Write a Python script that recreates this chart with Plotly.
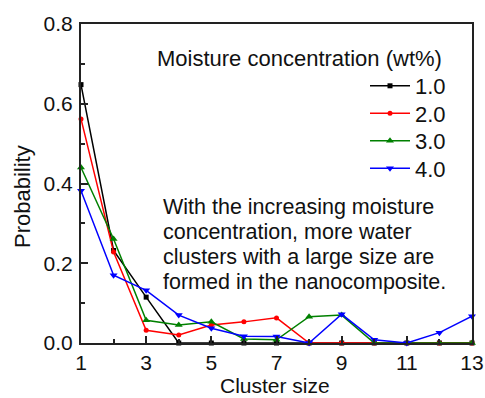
import plotly.graph_objects as go

cluster_size = [1, 2, 3, 4, 5, 6, 7, 8, 9, 10, 11, 12, 13]
p_1wt = [0.648, 0.232, 0.115, 0.0, 0.0, 0.0, 0.0, 0.0, 0.0, 0.0, 0.0, 0.0, 0.0]
p_2wt = [0.562, 0.228, 0.032, 0.020, 0.045, 0.053, 0.063, 0.0, 0.0, 0.0, 0.0, 0.0, 0.0]
p_3wt = [0.440, 0.261, 0.057, 0.045, 0.053, 0.010, 0.008, 0.066, 0.070, 0.0, 0.0, 0.0, 0.0]
p_4wt = [0.382, 0.170, 0.132, 0.070, 0.037, 0.017, 0.016, 0.0, 0.072, 0.008, 0.0, 0.026, 0.067]

series_names = ["1.0", "2.0", "3.0", "4.0"]
series_values = [p_1wt, p_2wt, p_3wt, p_4wt]
colors = ["#000000", "#ff0000", "#008000", "#0000ff"]
symbols = ["square", "circle", "triangle-up", "triangle-down"]
sizes = [5, 5, 7, 7]

legend_title = "Moisture concentration (wt%)"
note_lines = [
    "With the increasing moisture",
    "concentration, more water",
    "clusters with a large size are",
    "formed in the nanocomposite.",
]

FONT = "Liberation Sans, Arial, sans-serif"
TXT = "#111"

W, H = 485, 398
L, R, T, B = 81, 13, 24, 55
pw, ph = W - L - R, H - T - B


def px(x):
    return (x - L) / pw


def py(y):
    return (H - B - y) / ph


legend_ids = ["legend", "legend2", "legend3", "legend4"]
legend_rows = [86, 113.5, 141, 168.5]

fig = go.Figure()
for name, vals, c, s, sz, lg in zip(series_names, series_values, colors, symbols, sizes, legend_ids):
    fig.add_trace(go.Scatter(
        x=cluster_size, y=vals, name=name, mode="lines+markers",
        line=dict(color=c, width=1.5),
        marker=dict(symbol=s, size=sz, color=c),
        cliponaxis=False, legend=lg,
    ))

axis_common = dict(
    showline=True, linecolor="#222", linewidth=2, mirror=True,
    ticks="inside", ticklen=7, tickwidth=1.5, tickcolor="#222",
    showgrid=False, zeroline=False, automargin=False,
    tickfont=dict(family=FONT, size=21, color=TXT),
)

fig.update_xaxes(
    range=[1, 13], tick0=1, dtick=2,
    minor=dict(ticks="inside", ticklen=4, dtick=1, tick0=1, tickcolor="#222", tickwidth=1.5),
    ticklabelstandoff=0,
    **axis_common,
)
fig.update_yaxes(
    range=[0, 0.8], tick0=0, dtick=0.2, tickformat=".1f",
    minor=dict(ticks="inside", ticklen=4, dtick=0.1, tickcolor="#222", tickwidth=1.5),
    ticklabelstandoff=2,
    **axis_common,
)

fig.add_annotation(
    x=px(275), y=py(398), xref="paper", yref="paper", text="Cluster size",
    showarrow=False, xanchor="center", yanchor="bottom", borderpad=0,
    font=dict(family=FONT, size=21, color=TXT),
)
fig.add_annotation(
    x=px(22), y=py(197), xref="paper", yref="paper", text="Probability",
    textangle=-90, showarrow=False, xanchor="center", yanchor="middle",
    font=dict(family=FONT, size=22, color=TXT),
)
fig.add_annotation(
    x=px(444), y=py(58), xref="paper", yref="paper", text=legend_title,
    showarrow=False, xanchor="right", yanchor="middle",
    font=dict(family=FONT, size=22, color=TXT),
)
for i, line in enumerate(note_lines):
    fig.add_annotation(
        x=px(161), y=py(207 + 25 * i), xref="paper", yref="paper", text=line,
        showarrow=False, xanchor="left", yanchor="middle", align="left",
        font=dict(family=FONT, size=21.5, color=TXT),
    )

layout_legends = {}
for lg, row in zip(legend_ids, legend_rows):
    layout_legends[lg] = dict(
        x=px(451), y=py(row), xanchor="right", yanchor="middle",
        bgcolor="rgba(0,0,0,0)", borderwidth=0,
        font=dict(family=FONT, size=22, color=TXT),
        itemwidth=40,
    )

fig.update_layout(
    width=W, height=H,
    margin=dict(l=L, r=R, t=T, b=B, autoexpand=False),
    paper_bgcolor="white", plot_bgcolor="white",
    font=dict(family=FONT, size=22, color=TXT),
    showlegend=True,
    **layout_legends,
)

fig.write_html("out.html")
